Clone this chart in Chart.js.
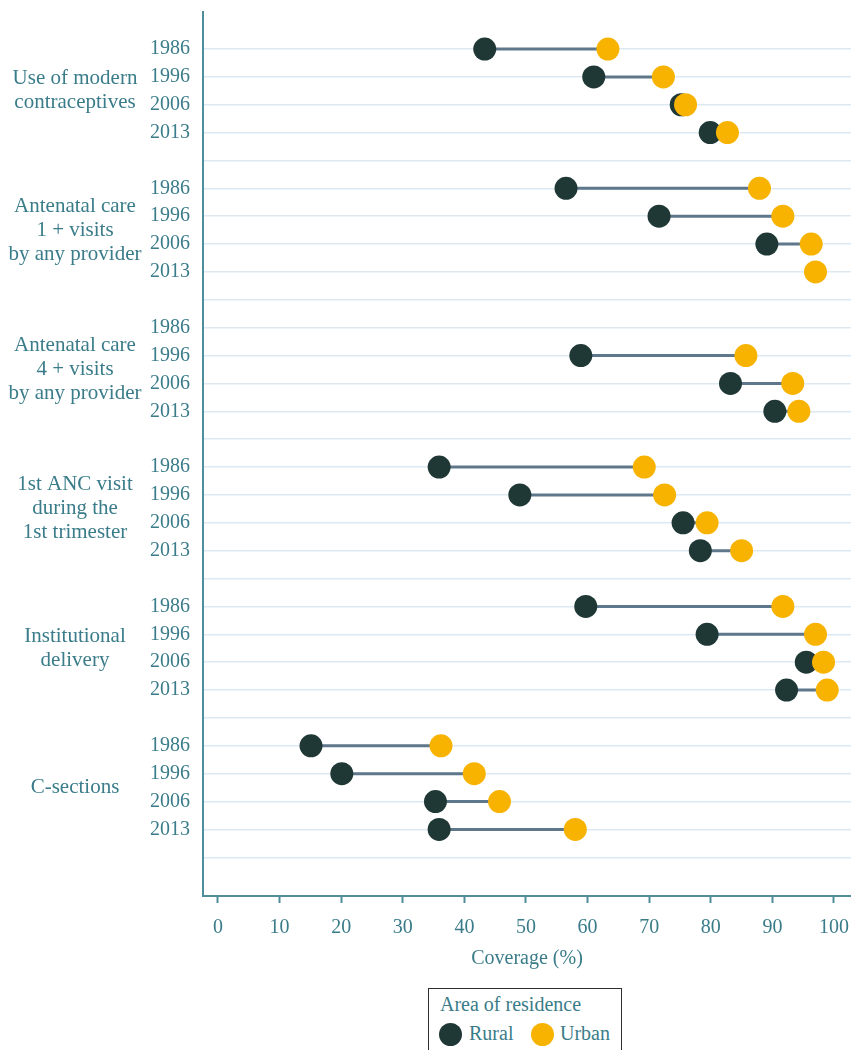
<!DOCTYPE html>
<html>
<head>
<meta charset="utf-8">
<script src="https://cdn.jsdelivr.net/npm/chart.js@4.4.1/dist/chart.umd.min.js"></script>
<style>
  html, body { margin: 0; padding: 0; background: #ffffff; }
  #wrap { position: relative; width: 851px; height: 1050px; overflow: hidden; }
  #chart { position: absolute; left: 0; top: 0; }
  #legend {
    position: absolute; left: 428px; top: 988px; width: 194px; height: 90px;
    border: 1px solid #2e2e2e; box-sizing: border-box; background: #fff;
    font-family: 'Liberation Serif', 'DejaVu Serif', serif; font-size: 20px; color: #3a7c89;
  }
  #legend .title { position: absolute; left: 11px; top: 3px; line-height: 24px; white-space: nowrap; }
  #legend .dot { position: absolute; width: 23px; height: 23px; border-radius: 50%; top: 34px; }
  #legend .lab { position: absolute; top: 32px; line-height: 24px; white-space: nowrap; }
</style>
</head>
<body>
<div id="wrap">
  <canvas id="chart" width="851" height="1050"></canvas>
  <div id="legend">
    <div class="title">Area of residence</div>
    <div class="dot" style="left:10px;background:#1f3836;"></div>
    <div class="lab" style="left:40px;">Rural</div>
    <div class="dot" style="left:102px;background:#f7b300;"></div>
    <div class="lab" style="left:131px;">Urban</div>
  </div>
</div>
<script>
// Survey years shown for every indicator
const years = ['1986', '1996', '2006', '2013'];

// Indicator names, split into the lines they are written on
const indicators = [
  ['Use of modern', 'contraceptives'],
  ['Antenatal care', '1 + visits', 'by any provider'],
  ['Antenatal care', '4 + visits', 'by any provider'],
  ['1st ANC visit', 'during the', '1st trimester'],
  ['Institutional', 'delivery'],
  ['C-sections']
];

// Coverage (%) by indicator, in year order (null = no rural dot shown)
const ruralCoverage = [
  43.3, 61.0, 75.2, 79.9,
  56.5, 71.6, 89.1, null,
  null, 58.9, 83.2, 90.4,
  35.9, 49.0, 75.5, 78.3,
  59.7, 79.4, 95.5, 92.3,
  15.1, 20.1, 35.3, 35.9
];
const urbanCoverage = [
  63.3, 72.3, 75.9, 82.7,
  87.9, 91.7, 96.3, 97.0,
  null, 85.7, 93.3, 94.3,
  69.2, 72.5, 79.4, 85.0,
  91.7, 97.0, 98.3, 98.9,
  36.2, 41.6, 45.7, 58.0
];

const xTicks = [0, 10, 20, 30, 40, 50, 60, 70, 80, 90, 100];

// Each indicator takes four year rows plus one spacer row
const ROWS_PER_GROUP = years.length + 1;
const rowOf = (i) => Math.floor(i / years.length) * ROWS_PER_GROUP + (i % years.length);
const rowCount = indicators.length * ROWS_PER_GROUP;

const ruralPoints = [], urbanPoints = [], connectorPoints = [];
ruralCoverage.forEach((r, i) => {
  const u = urbanCoverage[i];
  const row = rowOf(i);
  if (r !== null) ruralPoints.push({ x: r, y: row });
  if (u !== null) urbanPoints.push({ x: u, y: row });
  if (r !== null && u !== null) {
    connectorPoints.push({ x: r, y: row }, { x: u, y: row }, { x: null, y: null });
  }
});

const TEXT = '#3a7c89';
const AXIS = '#4f8d9a';
const FONT = "'Liberation Serif', 'DejaVu Serif', serif";

// Keep the plot area flush with the axis boxes
const noPadding = (s) => {
  s.paddingTop = 0; s.paddingBottom = 0; s.paddingLeft = 0; s.paddingRight = 0;
};

const groupLabels = {
  id: 'groupLabels',
  afterDraw(chart) {
    const ctx = chart.ctx;
    const y = chart.scales.y;
    ctx.save();
    ctx.font = '21px ' + FONT;
    ctx.fillStyle = TEXT;
    ctx.textAlign = 'center';
    ctx.textBaseline = 'middle';
    const lh = 24;
    indicators.forEach((lines, g) => {
      const cy = y.getPixelForValue(g * ROWS_PER_GROUP + (years.length - 1) / 2);
      const start = cy - (lines.length - 1) * lh / 2;
      lines.forEach((t, k) => ctx.fillText(t, 75, start + k * lh));
    });
    ctx.restore();
  }
};

new Chart(document.getElementById('chart'), {
  type: 'scatter',
  data: {
    datasets: [
      {
        label: 'Urban',
        data: urbanPoints,
        backgroundColor: '#f7b300',
        borderWidth: 0,
        pointRadius: 11.5,
        order: 0
      },
      {
        label: 'Rural',
        data: ruralPoints,
        backgroundColor: '#1f3836',
        borderWidth: 0,
        pointRadius: 11.5,
        order: 1
      },
      {
        label: 'Gap',
        data: connectorPoints,
        showLine: true,
        spanGaps: false,
        borderColor: '#5e778a',
        borderWidth: 3,
        pointRadius: 0,
        order: 2
      }
    ]
  },
  options: {
    responsive: false,
    animation: false,
    events: [],
    layout: { autoPadding: false, padding: { top: 12, right: 0, bottom: 0, left: 0 } },
    plugins: {
      legend: { display: false },
      tooltip: { enabled: false }
    },
    scales: {
      x: {
        type: 'linear',
        position: 'bottom',
        min: -2.435,
        max: 102.76,
        afterBuildTicks: (s) => { s.ticks = xTicks.map(v => ({ value: v })); },
        afterFit: (s) => { s.height = 154; noPadding(s); },
        grid: {
          drawOnChartArea: false,
          drawTicks: true,
          tickLength: 7,
          tickWidth: 2,
          tickColor: AXIS
        },
        border: { display: true, color: AXIS, width: 2 },
        ticks: {
          color: TEXT,
          padding: 13,
          maxRotation: 0,
          font: { family: FONT, size: 20 }
        },
        title: {
          display: true,
          text: 'Coverage (%)',
          color: TEXT,
          font: { family: FONT, size: 20 },
          padding: { top: 0, bottom: 79 }
        }
      },
      y: {
        type: 'linear',
        position: 'left',
        reverse: true,
        min: -1.328,
        max: 30.39,
        afterBuildTicks: (s) => {
          s.ticks = Array.from({ length: rowCount }, (_, i) => ({ value: i }));
        },
        afterFit: (s) => { s.width = 203; noPadding(s); },
        grid: {
          drawTicks: false,
          color: '#dde9f2',
          lineWidth: 1.5
        },
        border: { display: true, color: AXIS, width: 2 },
        ticks: {
          color: TEXT,
          padding: 13,
          autoSkip: false,
          font: { family: FONT, size: 20 },
          callback: (v) => {
            const k = Math.round(v) % ROWS_PER_GROUP;
            return k < years.length ? years[k] : '';
          }
        }
      }
    }
  },
  plugins: [groupLabels]
});
</script>
</body>
</html>
